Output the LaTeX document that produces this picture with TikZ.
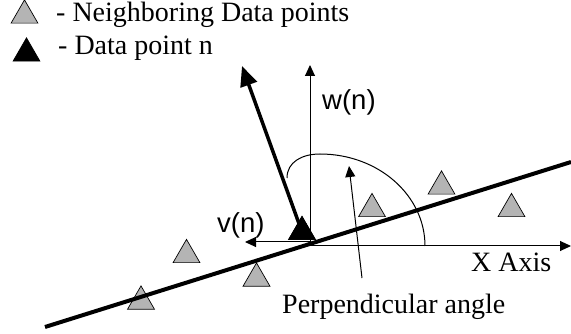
\documentclass[tikz,border=0pt]{standalone}
\usepackage{fontspec}
\setmainfont{Liberation Serif}
\setsansfont{Liberation Sans}
\usetikzlibrary{arrows.meta,shapes.geometric}
\definecolor{ptgrey}{RGB}{180,180,180}
\begin{document}
\begin{tikzpicture}[x=1pt,y=-1pt,
  tri/.style={regular polygon,regular polygon sides=3,minimum size=31pt,inner sep=0pt,outer sep=0pt,draw=black,line width=0.7pt},
  nb/.style={tri,fill=ptgrey},
  dp/.style={tri,fill=black},
  thinline/.style={line width=1pt},
  serif/.style={inner sep=0pt,font=\fontsize{28}{32}\selectfont,anchor=base west},
  sans/.style={inner sep=0pt,font=\sffamily\fontsize{27.5}{31}\selectfont,anchor=base west},
  sarrow/.style={thinline,-{Triangle[length=11pt,width=10pt]}},
  barrow/.style={line width=3.5pt,-{Triangle[length=20pt,width=17pt]}},
]
\useasboundingbox (0,0) rectangle (571,334);
% coordinates
\coordinate (O) at (310,242);
\coordinate (Ox) at (310,246);
\coordinate (wtip) at (310,65);
\coordinate (vtip) at (245,242);
\coordinate (xtip) at (571,246);
\coordinate (L1) at (45,327);
\coordinate (L2) at (571,162);
\coordinate (ptail) at (362,278);
\coordinate (ptip) at (349,166);
\coordinate (ntip) at (242,66);
\coordinate (a0) at (425,246);
\coordinate (a1) at (320,154);
\coordinate (a2) at (287,178);
% legend
\node[nb] (lg) at (24.5,15.4) {};
\node[dp] (lb) at (26.5,53.4) {};
\node[serif] (lgt) at (56,22) {- Neighboring Data points};
\node[serif] (lbt) at (58,55) {- Data point n};
% axes and vectors
\draw[sarrow] (O) -- (wtip);
\draw[sarrow] (O) -- (vtip);
\draw[sarrow] (Ox) -- (xtip);
\draw[thinline] (a0) .. controls (425,195) and (378,154) .. (a1)
  .. controls (302,154) and (287,162) .. (a2);
\draw[sarrow] (ptail) -- (ptip);
\node[dp] (n) at (302,231.9) {};
\draw[barrow] (n.center) -- (ntip);
\node[dp] at (302,231.9) {};
% neighbouring points
\node[nb] (g1) at (186.5,254.9) {};
\node[nb] (g2) at (256.5,278.4) {};
\node[nb] (g3) at (141,301.4) {};
\node[nb] (g4) at (372,208.9) {};
\node[nb] (g5) at (441.5,186.4) {};
\node[nb] (g6) at (511.5,208.9) {};
% fitted line
\draw[line width=4pt] (L1) -- (L2);
% labels
\node[sans] (wl) at (322,110) {w(n)};
\node[sans] (vl) at (217,233) {v(n)};
\node[serif] (xl) at (471,272) {X Axis};
\node[serif] (pl) at (282,313) {Perpendicular angle};
\end{tikzpicture}
\end{document}
